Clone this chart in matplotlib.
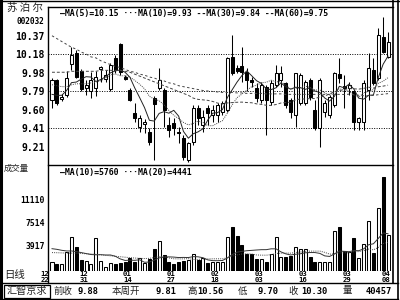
import matplotlib
matplotlib.use('Agg')
import matplotlib.pyplot as plt
import numpy as np
import pandas as pd
from matplotlib.patches import Rectangle
from matplotlib.lines import Line2D

plt.rcParams['font.family'] = ['DejaVu Sans Mono', 'Noto Sans CJK SC']

# ---------------- data (70 trading days, 2004-12-22 .. 2005-04-08) ----------------
opens = [9.70, 9.91, 9.71, 9.75, 10.08, 10.19, 10.00, 9.83, 9.80, 9.83,
         10.02, 9.92, 9.82, 10.14, 10.28, 9.94, 9.81, 9.57, 9.42, 9.45,
         9.37, 9.72, 9.83, 9.81, 9.44, 9.46, 9.37, 9.31, 9.08, 9.26,
         9.62, 9.44, 9.62, 9.55, 9.55, 9.58, 9.60, 10.15, 10.03, 10.05,
         9.99, 9.91, 9.83, 9.70, 9.84, 9.68, 9.86, 9.91, 9.88, 9.70,
         9.55, 9.67, 9.67, 9.91, 9.60, 9.41, 9.58, 9.55, 9.65, 9.97,
         9.85, 9.83, 9.80, 9.47, 9.47, 9.81, 10.01, 9.93, 10.36, 10.15]
highs = [9.93, 9.92, 9.76, 10.00, 10.25, 10.22, 10.02, 9.91, 9.99, 10.00,
         10.06, 10.01, 10.09, 10.17, 10.29, 9.96, 9.83, 9.67, 9.55, 9.50,
         9.41, 9.74, 10.03, 9.83, 9.52, 9.51, 9.42, 9.34, 9.26, 9.65,
         9.65, 9.60, 9.65, 9.65, 9.67, 9.69, 10.15, 10.38, 10.07, 10.25,
         10.03, 9.94, 9.88, 9.89, 9.86, 9.91, 10.07, 10.05, 9.89, 9.72,
         9.98, 9.98, 9.91, 9.93, 9.70, 9.93, 9.70, 9.75, 9.99, 10.14,
         9.96, 9.89, 9.81, 9.52, 9.91, 10.19, 10.14, 10.45, 10.56, 10.41]
lows = [9.62, 9.65, 9.69, 9.73, 10.01, 9.93, 9.79, 9.75, 9.72, 9.74,
        9.89, 9.89, 9.80, 9.98, 9.96, 9.91, 9.69, 9.47, 9.37, 9.36,
        9.23, 9.08, 9.81, 9.42, 9.32, 9.34, 9.25, 9.08, 9.06, 9.23,
        9.44, 9.37, 9.44, 9.47, 9.47, 9.55, 9.58, 9.96, 9.98, 9.89,
        9.79, 9.84, 9.68, 9.67, 9.34, 9.65, 9.84, 9.84, 9.62, 9.51,
        9.42, 9.65, 9.65, 9.70, 9.39, 9.21, 9.52, 9.51, 9.63, 9.88,
        9.62, 9.75, 9.39, 9.39, 9.39, 9.70, 9.86, 9.91, 10.19, 10.14]
closes = [9.91, 9.67, 9.73, 9.93, 10.17, 9.94, 9.82, 9.86, 9.91, 9.94,
          10.04, 9.96, 10.07, 10.01, 9.99, 9.92, 9.70, 9.51, 9.51, 9.47,
          9.26, 9.66, 9.91, 9.60, 9.39, 9.41, 9.36, 9.11, 9.25, 9.62,
          9.51, 9.52, 9.57, 9.60, 9.65, 9.67, 10.14, 9.98, 10.00, 9.99,
          9.91, 9.89, 9.72, 9.86, 9.70, 9.88, 9.98, 9.98, 9.65, 9.58,
          9.98, 9.96, 9.89, 9.73, 9.41, 9.91, 9.67, 9.73, 9.98, 9.93,
          9.83, 9.86, 9.47, 9.51, 9.88, 10.03, 9.88, 10.38, 10.20, 10.30]
volumes = [1400, 1150, 1200, 3040, 5350, 3810, 1750, 1600, 1150, 5150,
           1550, 660, 1250, 1100, 1250, 1450, 2100, 1400, 2000, 1300,
           1950, 3500, 4700, 2500, 1500, 1100, 1400, 1600, 1800, 2700,
           1700, 2100, 1300, 1400, 1400, 1400, 5250, 6890, 5400, 4070,
           2650, 2650, 1880, 1880, 1420, 2700, 5230, 2270, 2270, 2400,
           3700, 3400, 3400, 2270, 1400, 1400, 1400, 1400, 6150, 6890,
           3140, 2940, 5100, 2110, 4220, 7700, 2900, 9700, 14557, 5600]

# moving-average values read off the chart where the window reaches back
# before the first visible day
ma5_head = [9.76, 9.75, 9.75, 9.80]
ma10_head = [9.86, 9.85, 9.84, 9.84, 9.86, 9.87, 9.87, 9.87, 9.88]
ma30_head = [9.99, 9.99, 9.99, 9.99, 10.00, 10.00, 10.00, 10.00, 10.00, 10.00,
             10.01, 10.01, 10.01, 10.01, 10.01, 10.00, 9.99, 9.97, 9.95, 9.93,
             9.91, 9.89, 9.87, 9.85, 9.83, 9.81, 9.79, 9.77, 9.75]
ma60_head = [10.37, 10.34, 10.31, 10.28, 10.25, 10.23, 10.20, 10.18, 10.15, 10.14,
             10.11, 10.09, 10.07, 10.05, 10.04, 10.02, 10.00, 9.99, 9.97, 9.96,
             9.94, 9.93, 9.91, 9.90, 9.88, 9.87, 9.85, 9.84, 9.83, 9.82,
             9.81, 9.80, 9.795, 9.79, 9.785, 9.78, 9.78, 9.78, 9.775, 9.775,
             9.77, 9.77, 9.77, 9.77, 9.765, 9.765, 9.765, 9.765, 9.76, 9.76,
             9.76, 9.76, 9.76, 9.76, 9.76, 9.76, 9.76, 9.76, 9.76]
vma10_head = [3500, 3400, 3250, 3150, 3150, 3050, 2900, 2750, 2600]
vma20_head = [2900, 2880, 2850, 2830, 2820, 2800, 2760, 2720, 2680, 2620,
              2560, 2480, 2400, 2330, 2260, 2190, 2120, 2060, 2010]

price_ticks = [10.37, 10.18, 9.98, 9.79, 9.60, 9.41, 9.21]
grid_levels = [10.18, 9.79, 9.41]
vol_ticks = [3917, 7514, 11110]
date_months = ['12', '12', '01', '01', '02', '03', '03', '03', '04']
date_days = ['22', '31', '14', '27', '18', '03', '16', '29', '08']
date_index = [0, 7, 16, 25, 34, 43, 52, 61, 69]
price_legend = '\u2014MA(5)=10.15 \u00b7\u00b7\u00b7MA(10)=9.93 --MA(30)=9.84 --MA(60)=9.75'
vol_legend = '\u2014MA(10)=5760 \u00b7\u00b7\u00b7MA(20)=4441'
stock_name = '苏 泊 尔'
stock_code = '002032'
footer = ['前收', '9.88', '本周开', '9.81', '高', '10.56', '低', '9.70', '收', '10.30', '量', '40457']


def moving_average(values, window, head):
    full = pd.Series(values, dtype=float).rolling(window).mean().to_numpy()
    full[:len(head)] = head
    return full

# ---------------- figure ----------------
W, H = 400, 300
X0, DX = 52.0, 4.87          # pixel of first bar, pixels per bar
fig = plt.figure(figsize=(4, 3), dpi=100)
fig.patch.set_facecolor('white')

def rect(x0, y0, x1, y1):
    return [x0 / W, 1 - y1 / H, (x1 - x0) / W, (y1 - y0) / H]

def fx(px):
    return px / W

def fy(py):
    return 1 - py / H

axp = fig.add_axes(rect(48, 7, 392, 165))
axv = fig.add_axes(rect(48, 165, 392, 271.4))

n = len(closes)
idx = np.arange(n)
xlim = ((48 - X0) / DX, (392 - X0) / DX)

for ax in (axp, axv):
    ax.set_xlim(*xlim)
    for s in ax.spines.values():
        s.set_visible(False)
    ax.set_xticks([])
    ax.tick_params(axis='y', length=0, pad=2.2)

axp.set_ylim(9.025, 10.669)
axv.set_ylim(0, 16396)

LW = 0.75
bw = 0.62
for i in idx:
    o, h, l, c = opens[i], highs[i], lows[i], closes[i]
    up = c >= o
    axp.vlines(i, l, h, color='black', lw=LW, zorder=2)
    b = min(o, c)
    hgt = max(abs(c - o), 0.006)
    axp.add_patch(Rectangle((i - bw / 2, b), bw, hgt,
                            facecolor='white' if up else 'black',
                            edgecolor='black', lw=LW, zorder=3))
    axv.add_patch(Rectangle((i - bw / 2, 0), bw, volumes[i],
                            facecolor='white' if up else 'black',
                            edgecolor='black', lw=LW, zorder=3))

ma5 = moving_average(closes, 5, ma5_head)
ma10 = moving_average(closes, 10, ma10_head)
ma30 = moving_average(closes, 30, ma30_head)
ma60 = moving_average(closes, 60, ma60_head)
axp.plot(idx, ma5, color='#222222', lw=0.7, zorder=4)
axp.plot(idx, ma10, color='#444444', lw=0.7, ls=(0, (1, 1.2)), zorder=4)
axp.plot(idx, ma30, color='#444444', lw=0.7, ls=(0, (3, 2)), zorder=4)
axp.plot(idx, ma60, color='#444444', lw=0.7, ls=(0, (2.5, 2.5)), zorder=4)

for g in grid_levels:
    axp.axhline(g, color='black', lw=0.7, ls=(0, (1, 1.5)), zorder=1)

vma10 = moving_average(volumes, 10, vma10_head)
vma20 = moving_average(volumes, 20, vma20_head)
axv.plot(idx, vma10, color='#333333', lw=0.7, zorder=4)
axv.plot(idx, vma20, color='#444444', lw=0.7, ls=(0, (1, 1.2)), zorder=4)

mono = {'family': 'DejaVu Sans Mono', 'weight': 'bold'}
axp.set_yticks(price_ticks)
axp.set_yticklabels(['%.2f' % t for t in price_ticks], fontdict=dict(mono, size=7))
axv.set_yticks(vol_ticks)
axv.set_yticklabels([str(t) for t in vol_ticks], fontdict=dict(mono, size=5.8))

# date labels (drawn a little left of their bar, as in the source)
for k, i in enumerate(date_index):
    px = X0 + DX * i - 2.5 if k > 0 else 45.0
    fig.text(fx(px), fy(273.8), date_months[k], ha='center', va='center',
             fontdict=dict(mono, size=5.2))
    fig.text(fx(px), fy(279.8), date_days[k], ha='center', va='center',
             fontdict=dict(mono, size=5.2))

# legends
fig.text(fx(60), fy(13.5), price_legend, ha='left', va='center', fontdict=dict(mono, size=5.85))
fig.text(fx(60), fy(172), vol_legend, ha='left', va='center', fontdict=dict(mono, size=5.85))

cjk = ['Noto Sans CJK SC', 'DejaVu Sans']
fig.text(fx(25), fy(7.5), stock_name, ha='center', va='center', family=cjk, size=7.5, color='#222222')
fig.text(fx(44), fy(22), stock_code, ha='right', va='center', fontdict=dict(mono, size=5.6))
fig.text(fx(4), fy(168.5), '成交量', ha='left', va='center', family=cjk, size=6, color='#222222')
fig.text(fx(4), fy(275), '日线', ha='left', va='center', family=cjk, size=7.5, color='#222222')

# footer
fig.text(fx(27), fy(291), '汇智京求', ha='center', va='center', family=cjk, size=7.3, color='#222222')
fpos = [(53, 'l', 'c'), (99, 'r', 'm'), (112, 'l', 'c'), (177, 'r', 'm'), (187, 'l', 'c'),
        (223, 'r', 'm'), (238, 'l', 'c'), (278, 'r', 'm'), (288, 'l', 'c'), (328, 'r', 'm'),
        (343, 'l', 'c'), (392, 'r', 'm')]
for t, (x, al, kind) in zip(footer, fpos):
    ha = 'left' if al == 'l' else 'right'
    if kind == 'c':
        fig.text(fx(x), fy(291), t, ha=ha, va='center', family=cjk, size=6.8, color='#222222')
    else:
        fig.text(fx(x), fy(291), t, ha=ha, va='center', fontdict=dict(mono, size=6.3))

# frame lines
def hline(y, x0, x1, lw=1.0):
    fig.add_artist(Line2D([fx(x0), fx(x1)], [fy(y), fy(y)], color='black', lw=lw))

def vline(x, y0, y1, lw=1.0):
    fig.add_artist(Line2D([fx(x), fx(x)], [fy(y0), fy(y1)], color='black', lw=lw))

hline(0.5, 0, 399)
vline(1.2, 0, 300, lw=2.2)
hline(7, 48, 393)
vline(48, 7, 283)
vline(393, 0, 283, lw=1.2)
vline(397.5, 0, 300, lw=1.2)
hline(165, 48, 393)
hline(283, 0, 398)
hline(299, 0, 398)
fig.add_artist(Rectangle((fx(4), fy(297.5)), (50 - 4) / W, (297.5 - 284.5) / H,
                         transform=fig.transFigure, fill=False, edgecolor='black', lw=0.9))

fig.savefig('out.png', dpi=100, facecolor='white')
